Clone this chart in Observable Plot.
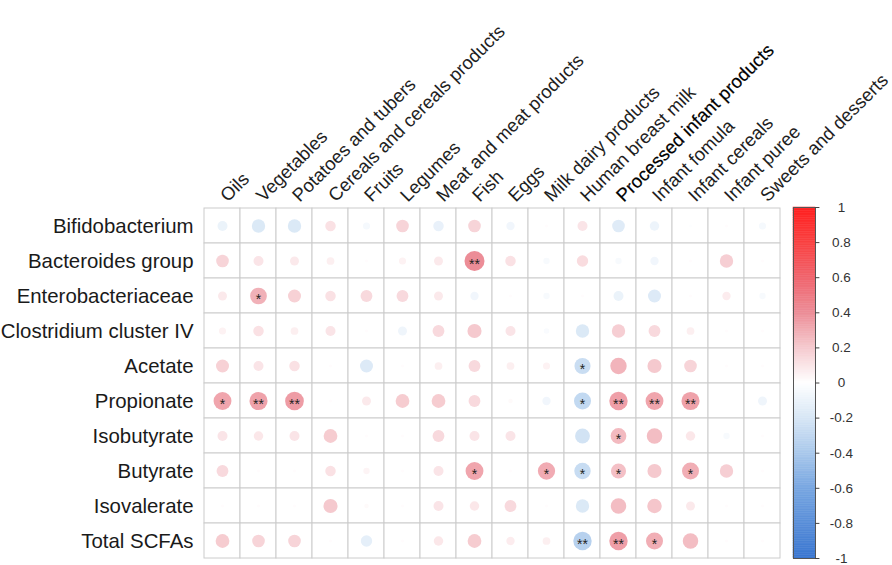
<!DOCTYPE html>
<html>
<head>
<meta charset="utf-8">
<script src="https://cdn.jsdelivr.net/npm/d3@7"></script>
<script src="https://cdn.jsdelivr.net/npm/@observablehq/plot@0.6"></script>
<style>
  html, body { margin: 0; padding: 0; background: #fff; }
  #chart { position: relative; width: 892px; height: 565px; overflow: hidden; }
  #chart > svg { position: absolute; top: 0; }
</style>
</head>
<body>
<div id="chart"></div>
<script>
// Food groups (columns) and microbial / SCFA outcomes (rows)
const foods = ["Oils", "Vegetables", "Potatoes and tubers", "Cereals and cereals products", "Fruits",
  "Legumes", "Meat and meat products", "Fish", "Eggs", "Milk dairy products", "Human breast milk",
  "Processed infant products", "Infant fomula", "Infant cereals", "Infant puree", "Sweets and desserts"];
const outcomes = ["Bifidobacterium", "Bacteroides group", "Enterobacteriaceae", "Clostridium cluster IV",
  "Acetate", "Propionate", "Isobutyrate", "Butyrate", "Isovalerate", "Total SCFAs"];

// Correlation coefficients, one array per outcome, in the order of `foods`
const bifidobacterium   = [-0.10, -0.18, -0.18, 0.11, -0.05, 0.16, -0.11, 0.16, -0.07, 0.01, 0.10, -0.16, -0.09, -0.01, 0.01, -0.05];
const bacteroides       = [0.16, 0.10, 0.08, 0.06, 0.01, 0.05, 0.08, 0.40, 0.11, -0.04, 0.13, -0.04, -0.07, 0.01, 0.18, 0.01];
const enterobacteriaceae= [0.08, 0.28, 0.17, 0.11, 0.14, 0.14, 0.08, -0.07, 0.01, -0.04, 0.01, -0.10, -0.17, 0.01, 0.07, -0.04];
const clostridiumIV     = [0.05, 0.11, 0.06, 0.10, 0.01, -0.08, 0.14, 0.20, 0.10, -0.03, -0.18, 0.18, 0.14, 0.06, 0.01, 0.01];
const acetate           = [0.17, 0.10, 0.11, 0.01, -0.17, 0.01, 0.06, 0.14, 0.06, 0.05, -0.26, 0.27, 0.20, 0.16, 0.01, 0.01];
const propionate        = [0.32, 0.33, 0.35, 0.01, 0.08, 0.19, 0.19, 0.14, 0.02, -0.07, -0.29, 0.34, 0.32, 0.33, 0.00, -0.08];
const isobutyrate       = [0.10, 0.09, 0.10, 0.19, 0.01, 0.01, 0.14, 0.10, 0.10, 0.00, -0.22, 0.25, 0.24, 0.09, -0.04, 0.01];
const butyrate          = [0.14, 0.01, 0.01, 0.11, 0.04, 0.01, 0.10, 0.32, 0.01, 0.30, -0.27, 0.23, 0.20, 0.29, 0.18, 0.01];
const isovalerate       = [0.01, 0.01, 0.01, 0.20, 0.02, 0.01, 0.10, 0.09, 0.14, 0.01, -0.18, 0.24, 0.21, 0.08, 0.01, 0.01];
const totalSCFAs        = [0.19, 0.16, 0.16, 0.01, -0.13, 0.01, 0.09, 0.19, 0.07, 0.06, -0.34, 0.34, 0.29, 0.24, 0.01, 0.01];

// Significance marks: [outcome, food, stars]
const significance = [
  ["Bacteroides group", "Fish", "**"],
  ["Enterobacteriaceae", "Vegetables", "*"],
  ["Acetate", "Human breast milk", "*"],
  ["Propionate", "Oils", "*"],
  ["Propionate", "Vegetables", "**"],
  ["Propionate", "Potatoes and tubers", "**"],
  ["Propionate", "Human breast milk", "*"],
  ["Propionate", "Processed infant products", "**"],
  ["Propionate", "Infant fomula", "**"],
  ["Propionate", "Infant cereals", "**"],
  ["Isobutyrate", "Processed infant products", "*"],
  ["Butyrate", "Fish", "*"],
  ["Butyrate", "Milk dairy products", "*"],
  ["Butyrate", "Human breast milk", "*"],
  ["Butyrate", "Processed infant products", "*"],
  ["Butyrate", "Infant cereals", "*"],
  ["Total SCFAs", "Human breast milk", "**"],
  ["Total SCFAs", "Processed infant products", "**"],
  ["Total SCFAs", "Infant fomula", "*"]
];

// Colour bar ticks
const legendTicks = [-1, -0.8, -0.6, -0.4, -0.2, 0, 0.2, 0.4, 0.6, 0.8, 1];

const rowValues = [bifidobacterium, bacteroides, enterobacteriaceae, clostridiumIV, acetate,
  propionate, isobutyrate, butyrate, isovalerate, totalSCFAs];
const cells = outcomes.flatMap((o, i) => foods.map((f, j) => ({outcome: o, food: f, r: rowValues[i][j]})));
const stars = significance.map(([outcome, food, label]) => ({outcome, food, label}));

// Diverging blue–white–red palette
const colorScale = {
  type: "linear",
  domain: [-1, -0.6, -0.4, -0.2, 0, 0.2, 0.4, 0.6, 0.8, 1],
  range: ["#3a76d0", "#78a6e1", "#a9c8eb", "#d7e6f5", "#ffffff", "#f5c9ce", "#ec8d97", "#f0646d", "#f94141", "#ff1f1f"],
  interpolate: "rgb"
};

const font = "'Liberation Sans', Arial, Helvetica, sans-serif";

const main = Plot.plot({
  width: 892,
  height: 565,
  marginLeft: 201,
  marginRight: 110,
  marginTop: 207,
  marginBottom: 7,
  style: {fontFamily: font, background: "white", overflow: "visible"},
  x: {type: "band", domain: foods, padding: 0, axis: null},
  y: {type: "band", domain: outcomes, padding: 0, axis: null},
  r: {type: "sqrt", domain: [0, 1], range: [0, 15.8]},
  color: colorScale,
  marks: [
    Plot.cell(cells, {x: "food", y: "outcome", fill: "white", stroke: "#cccccc", strokeWidth: 1}),
    Plot.dot(cells, {x: "food", y: "outcome", r: d => Math.abs(d.r), fill: "r", stroke: null}),
    Plot.text(stars, {x: "food", y: "outcome", text: "label", fontSize: 14, fill: "#222", dy: 4}),
    Plot.text(outcomes, {y: d => d, frameAnchor: "left", textAnchor: "end", dx: -8, fontSize: 20.4, fill: "#1a1a1a"}),
    Plot.text(foods, {
      x: d => d, frameAnchor: "top", textAnchor: "start", rotate: -45, dx: -4, dy: -14,
      fontSize: 18.5, fill: d => d === "Processed infant products" ? "#000" : "#1e1e1e",
      stroke: d => d === "Processed infant products" ? "#000" : "none", strokeWidth: 0.2
    })
  ]
});
main.style.left = "0px";

// Colour bar built from thin bands of the same palette
const bands = d3.range(-1, 1, 0.01).map(v => ({lo: v, hi: v + 0.01, mid: v + 0.005}));
const bar = Plot.plot({
  width: 112,
  height: 565,
  marginLeft: 13,
  marginRight: 77,
  marginTop: 207,
  marginBottom: 7,
  style: {fontFamily: font, background: "transparent", overflow: "visible"},
  x: {domain: [0, 1], axis: null},
  y: {domain: [-1, 1], axis: null},
  color: colorScale,
  marks: [
    Plot.rect(bands, {x1: 0, x2: 1, y1: "lo", y2: "hi", fill: "mid", stroke: "mid", strokeWidth: 0.5}),
    Plot.frame({stroke: "#555", strokeWidth: 1}),
    Plot.ruleY(legendTicks, {y: d => d, x1: 1, x2: 1.2, stroke: "#444"}),
    Plot.text(legendTicks, {y: d => d, x: 2.18, text: d => String(d), textAnchor: "middle", fontSize: 13.5, fill: "#333"})
  ]
});
bar.style.left = "780px";

const chart = document.getElementById("chart");
chart.append(main, bar);
</script>
</body>
</html>
